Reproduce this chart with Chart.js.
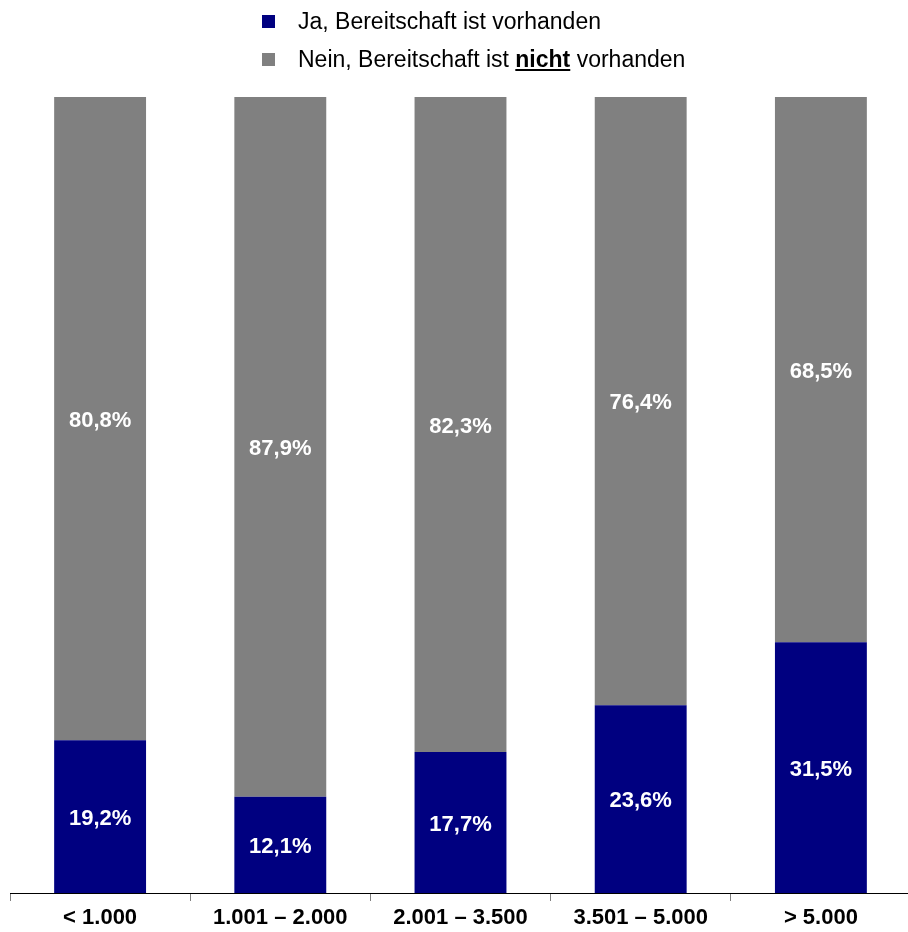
<!DOCTYPE html>
<html>
<head>
<meta charset="utf-8">
<script src="https://cdn.jsdelivr.net/npm/chart.js@4.4.1/dist/chart.umd.min.js"></script>
<style>
	html, body { margin: 0; padding: 0; background: #fff; overflow: hidden; }
	body { width: 908px; height: 932px; position: relative; font-family: Arial, "Liberation Sans", sans-serif; }
	#wrap { position: absolute; left: 0; top: 0; width: 912px; height: 932px; }
	#legend { position: absolute; left: 262px; top: 2px; font-size: 23px; color: #000; z-index: 2; }
	#legend .row { height: 38px; display: flex; align-items: center; }
	#legend .box { width: 13px; height: 13px; margin-right: 23px; }
</style>
</head>
<body>
<div id="legend">
	<div class="row"><span class="box" style="background:#000080"></span><span>Ja, Bereitschaft ist vorhanden</span></div>
	<div class="row"><span class="box" style="background:#808080"></span><span>Nein, Bereitschaft ist <b><u>nicht</u></b> vorhanden</span></div>
</div>
<div id="wrap"><canvas id="chart" width="912" height="932"></canvas></div>
<script>
// categories and values (percent)
const categories = ["< 1.000", "1.001 \u2013 2.000", "2.001 \u2013 3.500", "3.501 \u2013 5.000", "> 5.000"];
const jaValues = [19.2, 12.1, 17.7, 23.6, 31.5];
const neinValues = [80.8, 87.9, 82.3, 76.4, 68.5];

const seriesNames = ["Ja, Bereitschaft ist vorhanden", "Nein, Bereitschaft ist nicht vorhanden"];

// draws the white percent labels in the middle of each segment
const segmentLabels = {
	id: "segmentLabels",
	afterDatasetsDraw(chart) {
		const ctx = chart.ctx;
		ctx.save();
		ctx.fillStyle = "#fff";
		ctx.font = "bold 22px Arial, 'Liberation Sans', sans-serif";
		ctx.textAlign = "center";
		ctx.textBaseline = "middle";
		chart.data.datasets.forEach((ds, i) => {
			chart.getDatasetMeta(i).data.forEach((bar, j) => {
				const mid = (bar.y + bar.base) / 2;
				ctx.fillText(ds.data[j].toFixed(1).replace(".", ",") + "%", bar.x, mid + 2);
			});
		});
		ctx.restore();
	}
};

const chart = new Chart(document.getElementById("chart"), {
	type: "bar",
	data: {
		labels: categories,
		datasets: [
			{ label: seriesNames[0], data: jaValues, backgroundColor: "#000080" },
			{ label: seriesNames[1], data: neinValues, backgroundColor: "#808080" }
		]
	},
	options: {
		responsive: false,
		animation: false,
		layout: { padding: { top: 97, left: 10, right: 1, bottom: 0 } },
		plugins: {
			legend: { display: false },
			tooltip: { enabled: false }
		},
		datasets: {
			bar: { categoryPercentage: 1, barPercentage: 0.51 }
		},
		scales: {
			x: {
				stacked: true,
				grid: {
					offset: true,
					drawOnChartArea: false,
					drawTicks: true,
					tickLength: 8,
					color: "#808080"
				},
				border: { display: true, color: "#000", width: 1 },
				ticks: {
					color: "#000",
					padding: 4,
					maxRotation: 0,
					autoSkip: false,
					font: { family: "Arial, 'Liberation Sans', sans-serif", size: 22, weight: "bold" }
				},
				afterFit(scale) { scale.height = 39; }
			},
			y: {
				stacked: true,
				display: false,
				min: 0,
				max: 100
			}
		}
	},
	plugins: [segmentLabels]
});
</script>
</body>
</html>
